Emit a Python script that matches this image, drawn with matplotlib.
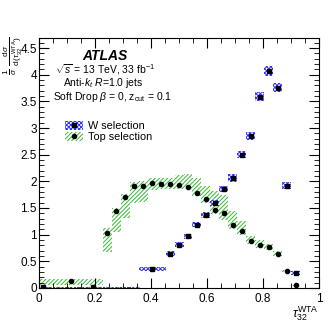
import matplotlib
matplotlib.use("Agg")
import matplotlib.pyplot as plt
from matplotlib.ticker import MultipleLocator, FormatStrFormatter
from matplotlib.patches import Patch
from matplotlib.lines import Line2D

plt.rcParams['font.family'] = ['Liberation Sans', 'DejaVu Sans']
plt.rcParams['mathtext.fontset'] = 'custom'
plt.rcParams['mathtext.rm'] = 'Liberation Sans'
plt.rcParams['mathtext.it'] = 'Liberation Sans:italic'
plt.rcParams['hatch.linewidth'] = 0.7

# W selection: bin edges, values, uncertainty
w_edges = [0, 0.03, 0.356, 0.452, 0.484, 0.516, 0.548, 0.580, 0.612, 0.644, 0.676,
           0.708, 0.740, 0.772, 0.804, 0.836, 0.868, 0.900, 0.932]
w_vals = [0.01, 0.01, 0.35, 0.645, 0.81, 0.97, 1.185, 1.37, 1.59, 1.86, 2.06,
          2.50, 2.85, 3.59, 4.07, 3.76, 1.92, 0.28]
w_err = [0.01, 0.01, 0.035, 0.05, 0.05, 0.05, 0.05, 0.05, 0.06, 0.06, 0.07,
         0.07, 0.08, 0.09, 0.10, 0.09, 0.07, 0.04]

# Top selection: bin edges, values, band low/high
top_edges = [0, 0.228, 0.260, 0.292, 0.324, 0.356, 0.388, 0.420, 0.452, 0.484,
             0.516, 0.548, 0.580, 0.612, 0.644, 0.676, 0.708, 0.740, 0.772,
             0.804, 0.836, 0.868, 0.900, 0.932]
top_vals = [0.12, 1.035, 1.44, 1.70, 1.91, 1.92, 1.97, 1.95, 1.95, 1.93, 1.90,
            1.78, 1.66, 1.47, 1.41, 1.18, 1.07, 0.88, 0.80, 0.76, 0.63, 0.32, 0.05]
top_lo = [0.06, 0.67, 1.04, 1.32, 1.60, 1.62, 1.84, 1.85, 1.86, 1.86, 1.85,
          1.72, 1.60, 1.38, 1.28, 1.10, 1.00, 0.83, 0.74, 0.71, 0.59, 0.30, 0.04]
top_hi = [0.17, 1.13, 1.50, 1.76, 1.98, 2.01, 2.07, 2.07, 2.06, 2.12, 2.14,
          2.07, 1.91, 1.81, 1.75, 1.44, 1.25, 0.97, 0.90, 0.83, 0.69, 0.34, 0.06]

w_c = [(a + b) / 2 for a, b in zip(w_edges[:-1], w_edges[1:])]
w_w = [b - a for a, b in zip(w_edges[:-1], w_edges[1:])]
t_c = [(a + b) / 2 for a, b in zip(top_edges[:-1], top_edges[1:])]
t_w = [b - a for a, b in zip(top_edges[:-1], top_edges[1:])]

fig = plt.figure(figsize=(3.32, 3.22), dpi=100)
ax = fig.add_axes([0.1175, 0.106, 0.8435, 0.776])

blue = '#3030ff'
green = '#33bb33'
w_hatch = 'xxxxxxxx'
t_hatch = '////////'

ax.bar(t_c, [h - l for h, l in zip(top_hi, top_lo)], bottom=top_lo, width=t_w,
       facecolor='none', edgecolor=green, linewidth=0, hatch=t_hatch)
ax.bar(w_c, [2 * e for e in w_err], bottom=[v - e for v, e in zip(w_vals, w_err)],
       width=w_w, facecolor='none', edgecolor=blue, linewidth=0, hatch=w_hatch)
# thin dotted band for the near-zero W bins
ax.hlines([w_vals[0], w_vals[1]], [w_edges[0] + 0.015, w_edges[1]], [w_edges[1], w_edges[2]],
          colors=blue, linestyles=':', linewidth=0.8)

ms = 3.0
ax.plot(w_c, w_vals, 's', color='black', markersize=ms, linestyle='none')
ax.plot(t_c, top_vals, 'o', color='black', markersize=ms, linestyle='none')

ax.set_xlim(0, 1)
ax.set_ylim(0, 4.69)
ax.xaxis.set_major_locator(MultipleLocator(0.2))
ax.xaxis.set_minor_locator(MultipleLocator(0.05))
ax.yaxis.set_major_locator(MultipleLocator(0.5))
ax.yaxis.set_minor_locator(MultipleLocator(0.1))
ax.xaxis.set_major_formatter(FormatStrFormatter('%g'))
ax.yaxis.set_major_formatter(FormatStrFormatter('%g'))
ax.tick_params(which='both', direction='in', top=True, right=True, labelsize=8.5)
ax.tick_params(which='major', length=7)
ax.tick_params(which='minor', length=3.5)
ax.tick_params(axis='y', pad=1.5)

ax.set_xlabel(r'$\tau_{32}^{\rm WTA}$', loc='right', fontsize=9, labelpad=0)
# y label placed by hand so it fits left of the tick labels
fig.text(1 / 332, 1 - 36 / 322,
         r'$\frac{1}{\sigma}\;\frac{{\rm d}\,\sigma}{{\rm d}\,(\tau_{32}^{\rm WTA})}$',
         rotation=90, ha='left', va='top', fontsize=8.5)

ax.text(0.235, 0.928, 'ATLAS', transform=ax.transAxes, ha='center', va='center',
        fontsize=10, fontweight='bold', fontstyle='italic')
ax.text(0.235, 0.872, r'$\sqrt{s}$ = 13 TeV, 33 fb$^{-1}$', transform=ax.transAxes,
        ha='center', va='center', fontsize=7.5)
ax.text(0.23, 0.82, r'Anti-$k_{t}$ $R$=1.0 jets', transform=ax.transAxes,
        ha='center', va='center', fontsize=7.5)
ax.text(0.05, 0.764, r'Soft Drop $\beta$ = 0, z$_{\rm cut}$ = 0.1', transform=ax.transAxes,
        ha='left', va='center', fontsize=7.5)

handles = [(Patch(facecolor='none', edgecolor=blue, linewidth=0, hatch=w_hatch),
            Line2D([], [], marker='s', color='black', markersize=ms, linestyle='none')),
           (Patch(facecolor='none', edgecolor=green, linewidth=0, hatch=t_hatch),
            Line2D([], [], marker='o', color='black', markersize=ms, linestyle='none'))]
ax.legend(handles, ['W selection', 'Top selection'], loc='upper left',
          bbox_to_anchor=(0.075, 0.69), frameon=False, fontsize=7.8,
          handlelength=1.6, handleheight=0.9, handletextpad=0.5, labelspacing=0.1,
          borderpad=0)

fig.savefig('out.png', dpi=100)
